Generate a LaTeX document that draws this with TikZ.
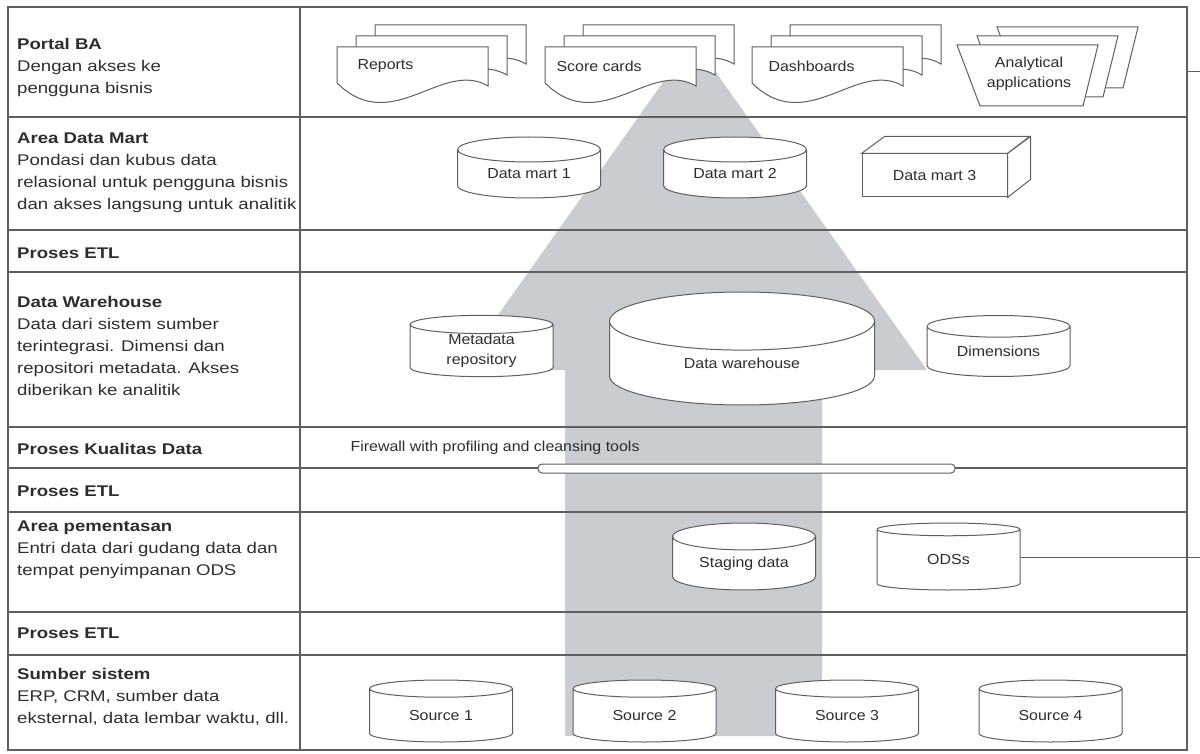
\documentclass[tikz,border=0pt]{standalone}
\usepackage{fontspec}
\setmainfont{Liberation Sans}
\newfontfamily\rowfont{Liberation Sans}[FakeStretch=1.2]
\newfontfamily\shapefont{Liberation Sans}[FakeStretch=1.1]
\usepackage{tikz}
\usetikzlibrary{shapes.geometric}

\definecolor{linegray}{RGB}{95,95,95}
\definecolor{textgray}{RGB}{45,45,45}
\definecolor{flowgray}{RGB}{201,204,208}

\begin{document}
\begin{tikzpicture}[
    x=1pt, y=-1pt,
    grid/.style={draw=linegray, line width=1.4pt},
    rowlab/.style={anchor=west, align=left, inner sep=0pt, text=textgray,
      font=\rowfont\fontsize{15.5}{22}\selectfont},
    lbl/.style={text=textgray, font=\shapefont\fontsize{14.5}{20}\selectfont, align=center},
    shp/.style={draw=linegray, fill=white, line width=1pt},
    db/.style={shp, lbl, cylinder, shape border rotate=90, inner sep=0pt,
      minimum width=143pt, minimum height=61pt, aspect=0.3, anchor=shape center},
    flow/.style={fill=flowgray, draw=none},
    fwbar/.style={shp, rounded corners=4pt, minimum width=417pt,
      minimum height=9pt, inner sep=0pt}]
  \useasboundingbox (0,0) rectangle (1200,754);

  % big upward arrow behind everything
  \fill[flow] (565,736) -- (565,370) -- (459,370) -- (693,40)
    -- (927,370) -- (822,370) -- (822,736) -- cycle;

  % table
  \draw[grid] (8,7) rectangle (1187,750);
  \draw[grid] (300,7) -- (300,750);
  \foreach \y in {117,230,272,427,468,512,612,655}
    \draw[grid] (8,\y) -- (1187,\y);

  % row labels
  \node[rowlab] (portal) at (17,67) {\textbf{Portal BA}\\Dengan akses ke\\pengguna bisnis};
  \node[rowlab] (mart) at (17,173) {\textbf{Area Data Mart}\\Pondasi dan kubus data\\relasional untuk pengguna bisnis\\dan akses langsung untuk analitik};
  \node[rowlab] (etl1) at (17,253) {\textbf{Proses ETL}};
  \node[rowlab] (dwrow) at (17,346) {\textbf{Data Warehouse}\\Data dari sistem sumber\\terintegrasi. Dimensi dan\\repositori metadata. Akses\\diberikan ke analitik};
  \node[rowlab] (quality) at (17,449) {\textbf{Proses Kualitas Data}};
  \node[rowlab] (etl2) at (17,491) {\textbf{Proses ETL}};
  \node[rowlab] (staging row) at (17,550) {\textbf{Area pementasan}\\Entri data dari gudang data dan\\tempat penyimpanan ODS};
  \node[rowlab] (etl3) at (17,633) {\textbf{Proses ETL}};
  \node[rowlab] (sources) at (17,697) {\textbf{Sumber sistem}\\ERP, CRM, sumber data\\eksternal, data lembar waktu, dll.};

  % portal documents
  \foreach \dx in {337,545,752}
    \foreach \k in {2,1,0}
      \draw[shp, shift={(\dx+19*\k,47-11*\k)}] (0,0) -- (151,0) -- (151,39)
        .. controls (105,12) and (55,90) .. (0,36) -- cycle;
  \node[lbl, anchor=west] (reports) at (354,66) {Reports};
  \node[lbl, anchor=west] (scorecards) at (553,66) {Score cards};
  \node[lbl, anchor=west] (dashboards) at (765,66) {Dashboards};
  \foreach \k in {2,1,0}
    \draw[shp, shift={(20*\k,-9*\k)}] (957,45) -- (1098,45) -- (1083,106) -- (980,106) -- cycle;
  \node[lbl] (analytical) at (1029,74) {Analytical\\applications};

  % data marts
  \node[db] (dm1) at (529,167.5) {Data mart 1};
  \node[db] (dm2) at (735,167.5) {Data mart 2};
  \node[shp, lbl, minimum width=145pt, minimum height=43pt, inner sep=0pt] (dm3) at (934.5,175.5) {Data mart 3};
  \draw[shp] (dm3.north west) -- ++(23,-17) -- ++(145,0) -- (dm3.north east) -- cycle;
  \draw[shp] (dm3.north east) -- ++(23,-17) -- ++(0,43) -- (dm3.south east) -- cycle;

  % warehouse
  \node[db, minimum height=61pt, aspect=0.26] (meta) at (481.5,346) {Metadata\\repository};
  \node[db, minimum width=265pt, minimum height=113pt, aspect=0.5] (dw) at (742,348.5) {Data warehouse};
  \node[db, minimum height=61pt, aspect=0.26] (dims) at (998.5,346) {Dimensions};

  % firewall
  \node[lbl, anchor=base west] (fwtext) at (347,451) {Firewall with profiling and cleansing tools};
  \node[fwbar] (firewall) at (746.5,468.5) {};

  % staging
  \node[db, minimum height=67pt] (staging) at (744,556.5) {Staging data};
  \node[db, minimum height=67pt] (ods) at (948.5,556.5) {ODSs};
  \coordinate (odsout) at (1200,557);
  \draw[grid, line width=1pt] (ods.east |- odsout) -- (odsout);
  \coordinate (portalout) at (1200,72);
  \draw[grid, line width=1pt] (1187,72) -- (portalout);

  % sources
  \foreach \x/\i in {441/1, 644.5/2, 847/3, 1050.5/4}
    \node[db, minimum height=62pt, aspect=0.27] (src\i) at (\x,711) {Source \i};
\end{tikzpicture}
\end{document}
